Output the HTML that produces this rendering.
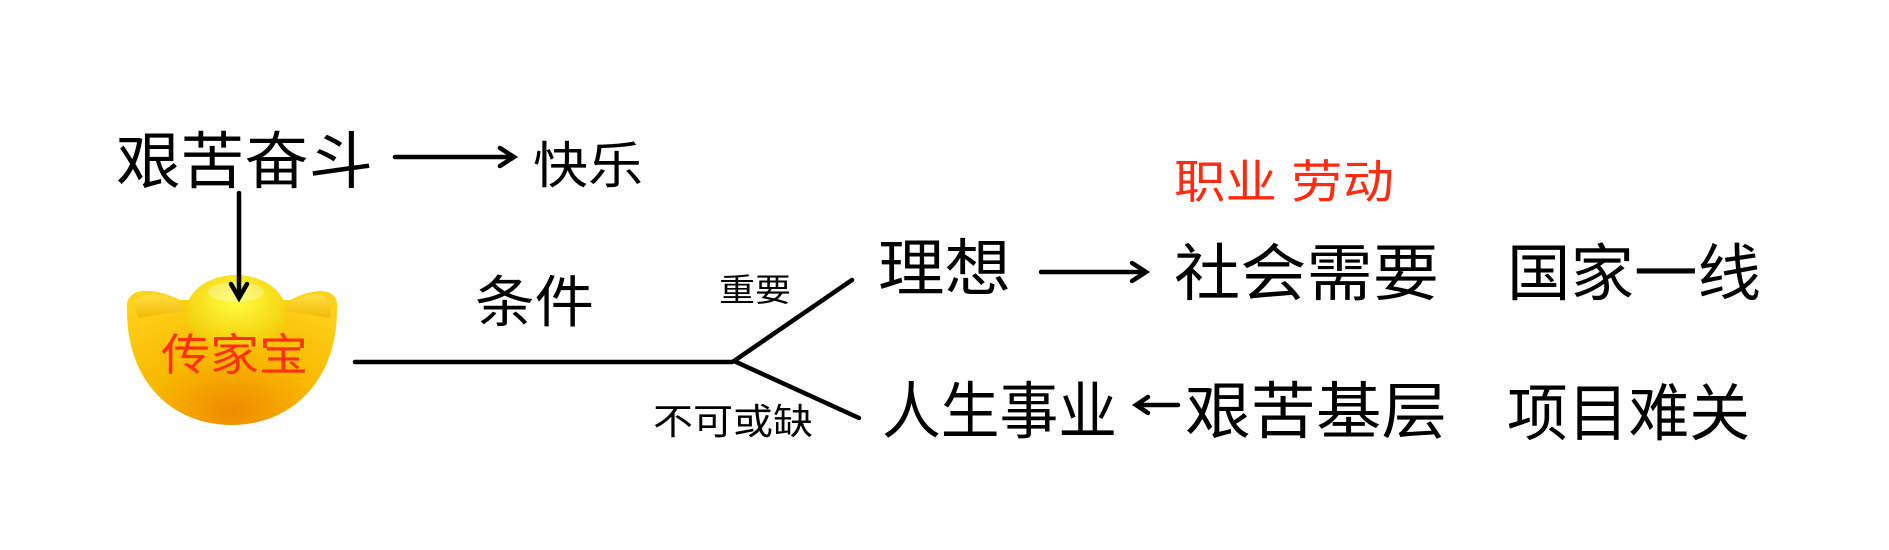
<!DOCTYPE html>
<html><head><meta charset="utf-8"><style>
html,body{margin:0;padding:0;background:#fff;width:1889px;height:550px;overflow:hidden}
svg text{font-family:"Liberation Sans","Noto Sans CJK SC","WenQuanYi Zen Hei",sans-serif}
</style></head><body>
<svg width="1889" height="550" viewBox="0 0 1889 550" xmlns="http://www.w3.org/2000/svg">
<defs>
<radialGradient id="body" cx="0.5" cy="0.9" r="0.9">
<stop offset="0" stop-color="#f08a00"/><stop offset="0.45" stop-color="#f8b800"/><stop offset="1" stop-color="#ffd21a"/></radialGradient>
<radialGradient id="dome" cx="0.5" cy="0.35" r="0.7">
<stop offset="0" stop-color="#ffff40"/><stop offset="1" stop-color="#f2c400"/></radialGradient>
<linearGradient id="wing" x1="0" y1="0" x2="0" y2="1"><stop offset="0" stop-color="#ffe24a"/><stop offset="1" stop-color="#f0b400"/></linearGradient>
</defs>
<g fill="#000">
<text x="116" y="183" font-size="62" textLength="257" lengthAdjust="spacingAndGlyphs">艰苦奋斗</text>
<text x="533" y="183" font-size="50" textLength="110" lengthAdjust="spacingAndGlyphs">快乐</text>
<text x="475" y="322" font-size="56" textLength="119" lengthAdjust="spacingAndGlyphs">条件</text>
<text x="719" y="301" font-size="32" textLength="72" lengthAdjust="spacingAndGlyphs">重要</text>
<text x="653" y="434" font-size="36" textLength="160" lengthAdjust="spacingAndGlyphs">不可或缺</text>
<text x="878" y="290" font-size="62" textLength="133" lengthAdjust="spacingAndGlyphs">理想</text>
<text x="1174" y="295" font-size="62" textLength="265" lengthAdjust="spacingAndGlyphs">社会需要</text>
<text x="1507" y="295" font-size="62" textLength="254" lengthAdjust="spacingAndGlyphs">国家一线</text>
<text x="882" y="433" font-size="62" textLength="235" lengthAdjust="spacingAndGlyphs">人生事业</text>
<text x="1185" y="433" font-size="62" textLength="262" lengthAdjust="spacingAndGlyphs">艰苦基层</text>
<text x="1507" y="435" font-size="62" textLength="243" lengthAdjust="spacingAndGlyphs">项目难关</text>
</g>
<text x="1174" y="198" font-size="46" fill="#ff2a10" textLength="220" lengthAdjust="spacingAndGlyphs">职业 劳动</text>
<!-- ingot -->
<path d="M127,310 C124,288 150,285 180,300 L290,300 C318,286 340,288 337,310 C337,382 290,425 232,425 C172,425 127,382 127,310 Z" fill="url(#body)"/>
<path d="M133,302 C145,290 168,292 190,310 L138,318 Z" fill="url(#wing)" opacity="0.85"/>
<path d="M332,302 C322,290 300,292 282,310 L330,318 Z" fill="url(#wing)" opacity="0.85"/>
<ellipse cx="236" cy="312" rx="50" ry="37" fill="url(#dome)"/>
<ellipse cx="236" cy="292" rx="28" ry="10" fill="#fff" opacity="0.3"/>
<text x="161" y="370" font-size="44" fill="#ff3010" textLength="147" lengthAdjust="spacingAndGlyphs">传家宝</text>
<g stroke="#000" stroke-width="4.5" fill="none" stroke-linecap="round">
<line x1="395" y1="157" x2="512" y2="157"/>
<path d="M500,148 L514,157 L500,166"/>
<line x1="239" y1="193" x2="239" y2="296"/>
<path d="M231,284 L239,298 L247,284"/>
<line x1="355" y1="362" x2="732" y2="362"/>
<path d="M852,280 L734,361 L859,418"/>
<line x1="1041" y1="272" x2="1144" y2="272"/>
<path d="M1132,263 L1146,272 L1132,281"/>
<line x1="1138" y1="405" x2="1178" y2="405"/>
<path d="M1148,397 L1136,405 L1148,413"/>
</g>
</svg>
</body></html>
